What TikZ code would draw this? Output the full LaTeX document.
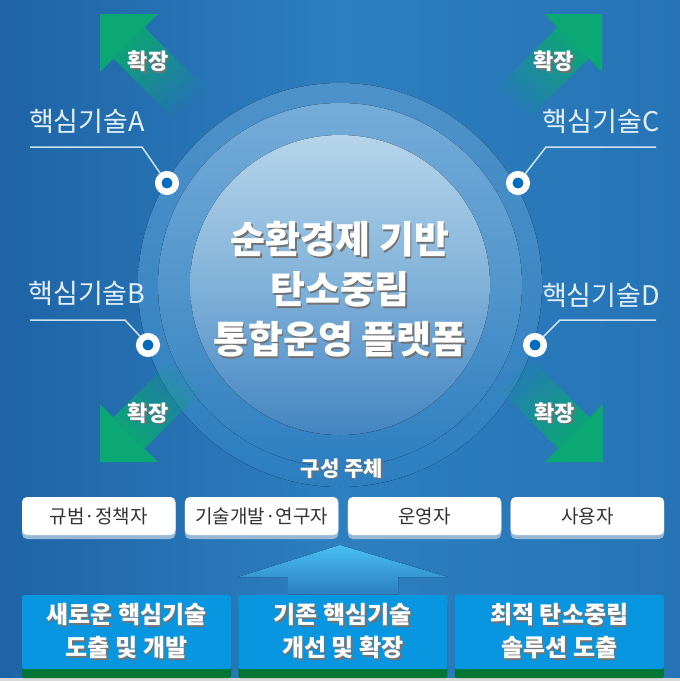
\documentclass[tikz,border=0pt]{standalone}
\usepackage{fontspec}
\setmainfont{Noto Sans CJK KR}
\usetikzlibrary{positioning, shadows}
\usepackage{xcolor}
\definecolor{bgdark}{RGB}{30,100,166}
\definecolor{bgmid}{RGB}{45,127,192}
\definecolor{bgright}{RGB}{38,116,181}
\definecolor{ringout}{RGB}{78,146,202}
\definecolor{ringmid}{RGB}{118,172,216}
\definecolor{coretop}{RGB}{182,212,233}
\definecolor{coremid}{RGB}{128,178,217}
\definecolor{corebot}{RGB}{68,133,194}
\definecolor{linecol}{RGB}{205,226,242}
\definecolor{techcol}{RGB}{228,240,249}
\definecolor{dotblue}{RGB}{0,108,188}
\definecolor{arrowgreen}{RGB}{12,168,116}
\definecolor{upcyan}{RGB}{72,192,242}
\definecolor{taskblue}{RGB}{8,150,224}
\definecolor{stripgreen}{RGB}{0,118,52}
\definecolor{actorshadow}{RGB}{150,184,214}
\newcommand{\dropshadow}[1]{\leavevmode\rlap{\kern1.5pt\raisebox{-1.5pt}{\textcolor{black!55}{#1}}}#1}

\begin{document}
\begin{tikzpicture}[x=1pt, y=-1pt,
    leader/.style={draw=linecol, line width=1.5pt},
    dot/.style={circle, draw=white, line width=6.5pt, fill=dotblue, inner sep=0pt, minimum size=17.5pt},
    tech/.style={text=techcol, font=\fontsize{27}{30}\selectfont},
    expandlabel/.style={text=white, font=\fontsize{22}{26}\selectfont\bfseries},
    title/.style={text=white, align=center, font=\fontsize{38}{50}\selectfont\bfseries},
    actor/.style={fill=white, rounded corners=5pt, minimum width=153.5pt, minimum height=38pt, inner sep=0pt,
        text=black!80, font=\fontsize{19}{22}\selectfont,
        drop shadow={shadow xshift=0pt, shadow yshift=-4pt, fill=actorshadow, opacity=1}},
    task/.style={fill=taskblue, rounded corners=2pt, minimum width=209pt, minimum height=74pt, inner sep=0pt,
        align=center, text=white, font=\fontsize{24}{33}\selectfont\bfseries,
        drop shadow={shadow xshift=0pt, shadow yshift=-9pt, fill=stripgreen, opacity=1}}]
    \useasboundingbox (0,0) rectangle (680,681);
    \fill[left color=bgdark, right color=bgright, middle color=bgmid] (0,0) rectangle (680,681);
    \fill[black!15] (0,678) rectangle (680,681);

    \fill[top color=ringout, bottom color=bgmid] (340,285) circle (202pt);
    \fill[top color=ringmid, bottom color=bgmid] (340,285) circle (182pt);
    \fill[top color=coretop, bottom color=corebot, middle color=coremid] (340,285) circle (150pt);

    \foreach \cx/\cy/\ang/\nm in {100/14/135/tl, 602/14/45/tr, 100/462/225/bl, 603/462/315/br}{
        \begin{scope}[shift={(\cx,\cy)}, rotate=\ang]
            \foreach \i in {0,...,15}
                \fill[arrowgreen, fill opacity={0.9*(1-\i/16)}] (-41-5.25*\i,-22) rectangle (-46.25-5.25*\i,22);
            \fill[arrowgreen] (0,0) -- (-41,-41) -- (-41,41) -- cycle;
            \node[expandlabel] (g\nm) at (-68,0) {\dropshadow{확장}};
        \end{scope}
    }

    \node[dot] (dA) at (167,183) {};
    \node[dot] (dB) at (148,345) {};
    \node[dot] (dC) at (518,183) {};
    \node[dot] (dD) at (535,345) {};
    \coordinate (lA) at (30,147);
    \coordinate (kA) at (142,147);
    \coordinate (lB) at (30,320);
    \coordinate (kB) at (125,320);
    \coordinate (lC) at (656,147);
    \coordinate (kC) at (546,147);
    \coordinate (lD) at (656,320);
    \coordinate (kD) at (560,320);
    \draw[leader] (lA) -- (kA) -- (dA);
    \draw[leader] (lB) -- (kB) -- (dB);
    \draw[leader] (lC) -- (kC) -- (dC);
    \draw[leader] (lD) -- (kD) -- (dD);
    \node[tech] (tA) at (87,121) {핵심기술A};
    \node[tech] (tB) at (87,293) {핵심기술B};
    \node[tech] (tC) at (601,121) {핵심기술C};
    \node[tech] (tD) at (601,295) {핵심기술D};

    \node[title] (core) at (340,290) {\dropshadow{순환경제 기반}\\\dropshadow{탄소중립}\\\dropshadow{통합운영 플랫폼}};

    \node[expandlabel, font=\fontsize{21}{24}\selectfont\bfseries] (who) at (342,469) {\dropshadow{구성 주체}};
    \node[actor] (a1) at (98.75,516) {규범·정책자};
    \node[actor, right=9pt of a1] (a2) {기술개발·연구자};
    \node[actor, right=9pt of a2] (a3) {운영자};
    \node[actor, right=9pt of a3] (a4) {사용자};

    \fill[top color=upcyan, bottom color=bgmid] (340,545) -- (448,577) -- (398,577) -- (398,594)
        -- (288,594) -- (288,577) -- (238,577) -- cycle;

    \node[task] (t1) at (126.5,632) {\dropshadow{새로운 핵심기술}\\\dropshadow{도출 및 개발}};
    \node[task, right=7pt of t1] (t2) {\dropshadow{기존 핵심기술}\\\dropshadow{개선 및 확장}};
    \node[task, right=7pt of t2] (t3) {\dropshadow{최적 탄소중립}\\\dropshadow{솔루션 도출}};
\end{tikzpicture}
\end{document}
